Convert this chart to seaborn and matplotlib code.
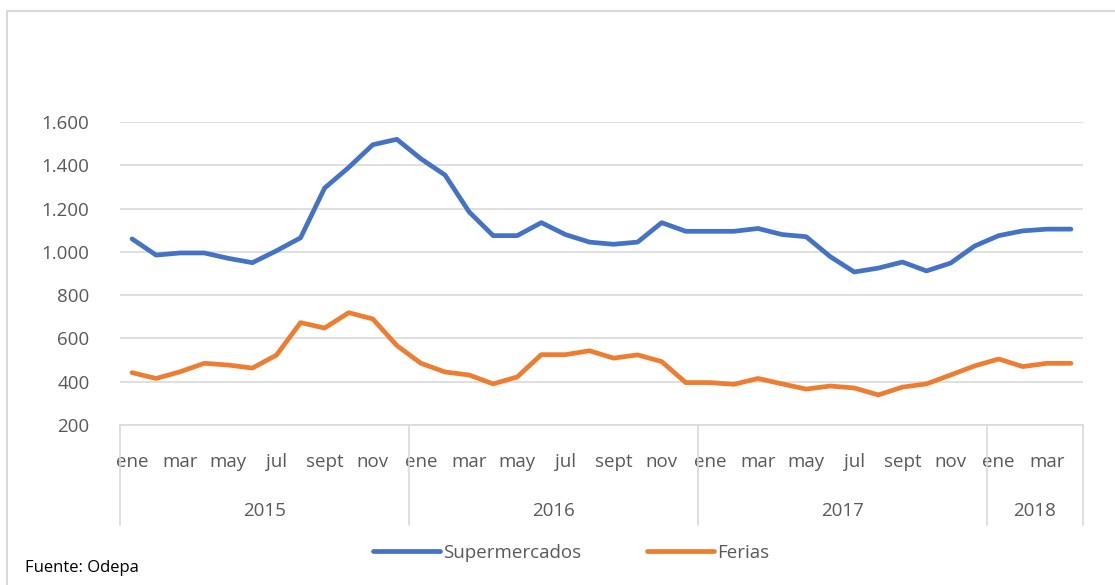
import numpy as np
import pandas as pd
import seaborn as sns
import matplotlib.pyplot as plt
from matplotlib.lines import Line2D

# datos mensuales ene 2015 - abr 2018
meses = ['ene', 'feb', 'mar', 'abr', 'may', 'jun', 'jul', 'ago', 'sept', 'oct', 'nov', 'dic']
anios = ['2015', '2016', '2017', '2018']
meses_por_anio = [12, 12, 12, 4]

supermercados = [1060, 985, 995, 995, 970, 950, 1005, 1065, 1295, 1390, 1495, 1520,
                 1430, 1355, 1185, 1075, 1075, 1135, 1080, 1045, 1035, 1045, 1135, 1095,
                 1095, 1095, 1108, 1080, 1070, 978, 907, 925, 953, 912, 948, 1027,
                 1075, 1097, 1105, 1105]
ferias = [442, 415, 446, 485, 477, 463, 523, 673, 648, 719, 690, 567,
          485, 445, 431, 390, 422, 525, 525, 543, 509, 524, 493, 396,
          396, 388, 415, 390, 366, 380, 371, 339, 375, 390, 431, 473,
          505, 470, 485, 485]

etiquetas = []
for n in meses_por_anio:
    etiquetas += meses[:n]

df = pd.DataFrame({'pos': np.arange(len(etiquetas)),
                   'Supermercados': supermercados,
                   'Ferias': ferias})
df_largo = df.melt(id_vars='pos', var_name='serie', value_name='precio')

sns.set_style('white')
plt.rcParams['font.family'] = ['Open Sans', 'DejaVu Sans']
gris = '#595959'
tam = 13.5

fig = plt.figure(figsize=(11.15, 5.85), dpi=100)
ax = fig.add_axes([120 / 1115, 1 - 425 / 585, 963 / 1115, 303 / 585])

sns.lineplot(data=df_largo, x='pos', y='precio', hue='serie',
             palette={'Supermercados': '#4472C4', 'Ferias': '#ED7D31'},
             linewidth=3.4, ax=ax, legend=False)

ax.set_xlim(-0.5, len(etiquetas) - 0.5)
ax.set_ylim(200, 1600)
ax.set_yticks(range(200, 1601, 200))
ax.set_yticklabels([f'{v:,}'.replace(',', '.') for v in range(200, 1601, 200)],
                   color=gris, fontsize=tam)
ax.set_xticks(range(0, len(etiquetas), 2))
ax.set_xticklabels(etiquetas[::2], color=gris, fontsize=tam)
ax.tick_params(axis='x', length=0, pad=20)
ax.tick_params(axis='y', length=0, pad=22)
ax.grid(axis='y', color='#d9d9d9', linewidth=1.2)
ax.set_axisbelow(True)
for s in ['top', 'right', 'left']:
    ax.spines[s].set_visible(False)
ax.spines['bottom'].set_color('#d9d9d9')
ax.spines['bottom'].set_linewidth(1.2)
ax.set_xlabel('')
ax.set_ylabel('')

# separadores de año y etiquetas de año
trans = ax.get_xaxis_transform()
limites = np.concatenate([[0], np.cumsum(meses_por_anio)]) - 0.5
for b in limites:
    ax.plot([b, b], [0, -0.33], color='#d9d9d9', linewidth=1.2,
            transform=trans, clip_on=False)
for i, a in enumerate(anios):
    centro = (limites[i] + limites[i + 1]) / 2
    ax.text(centro, -0.283, a, transform=trans, ha='center', va='center',
            color=gris, fontsize=tam)

# leyenda
handles = [Line2D([], [], color='#4472C4', linewidth=3.4),
           Line2D([], [], color='#ED7D31', linewidth=3.4)]
fig.legend(handles, ['Supermercados', 'Ferias'], loc='center',
           bbox_to_anchor=(571 / 1115, 1 - 553 / 585), ncol=2, frameon=False,
           handlelength=3.6, handletextpad=0.15, columnspacing=3.5,
           labelcolor=gris, prop={'size': tam})

fig.text(25 / 1115, 1 - 568 / 585, 'Fuente: Odepa', fontsize=12,
         color='black', ha='left', va='center')

# borde del gráfico
fig.add_artist(Line2D([7 / 1115, 1], [1 - 11 / 585, 1 - 11 / 585],
                      color='#d9d9d9', linewidth=1.5))
fig.add_artist(Line2D([7 / 1115, 7 / 1115], [0, 1 - 11 / 585],
                      color='#d9d9d9', linewidth=1.5))

fig.savefig('out.png', dpi=100)
